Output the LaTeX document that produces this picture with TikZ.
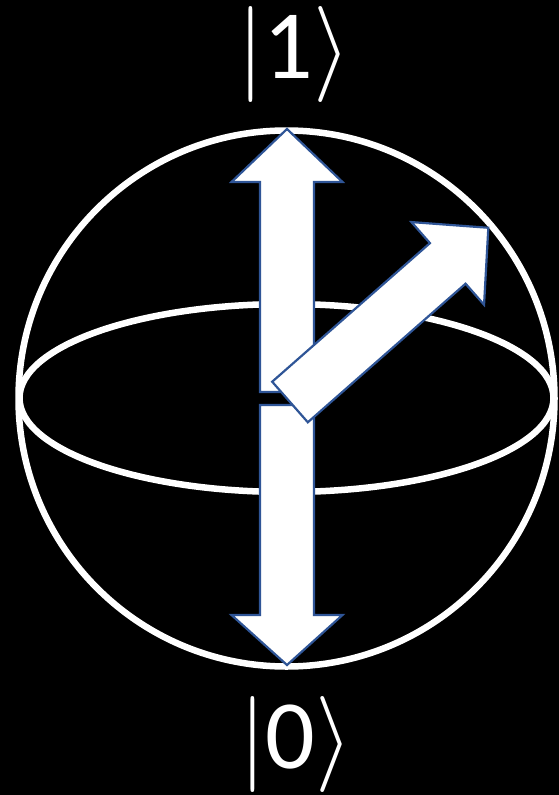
\documentclass[tikz,border=0pt]{standalone}
\usepackage{graphicx}
\usepackage{fontspec}
\newfontfamily\carlito{Carlito}
\definecolor{arrowblue}{HTML}{2F5597}
\newcommand\bigdelim[1]{\scalebox{9.6}{\fontsize{10}{12}\selectfont$#1$}}
\begin{document}
\begin{tikzpicture}[x=1pt,y=-1pt,
  sphere/.style={draw=white,line width=6.5pt},
  bigarrow/.style={fill=white,draw=arrowblue,line width=2.2pt,line join=miter},
  ket/.style={text=white,inner sep=0pt,font=\fontsize{98}{100}\selectfont\carlito}]
\fill[black] (0,0) rectangle (559,795);
\useasboundingbox (0,0) rectangle (559,795);
\draw[sphere] (286.5,398.5) circle[radius=268];
\draw[sphere] (286.5,398) ellipse[x radius=267, y radius=94];
\draw[bigarrow] (287,129) -- (342.5,182) -- (314,182) -- (314,392) -- (260,392) -- (260,182) -- (231.5,182) -- cycle;
\draw[bigarrow] (287,665) -- (342.5,615) -- (314,615) -- (314,405) -- (260,405) -- (260,615) -- (231.5,615) -- cycle;
\begin{scope}[shift={(290,402)},rotate=41.3]
\draw[bigarrow] (0,-27) -- (210,-27) -- (210,-55) -- (264,0) -- (210,55) -- (210,27) -- (0,27) -- cycle;
\end{scope}
\node[ket] (one) at (294,54) {\bigdelim{\vert}1\bigdelim{\rangle}};
\node[ket] (zero) at (296,744) {\bigdelim{\vert}0\bigdelim{\rangle}};
\end{tikzpicture}
\end{document}
